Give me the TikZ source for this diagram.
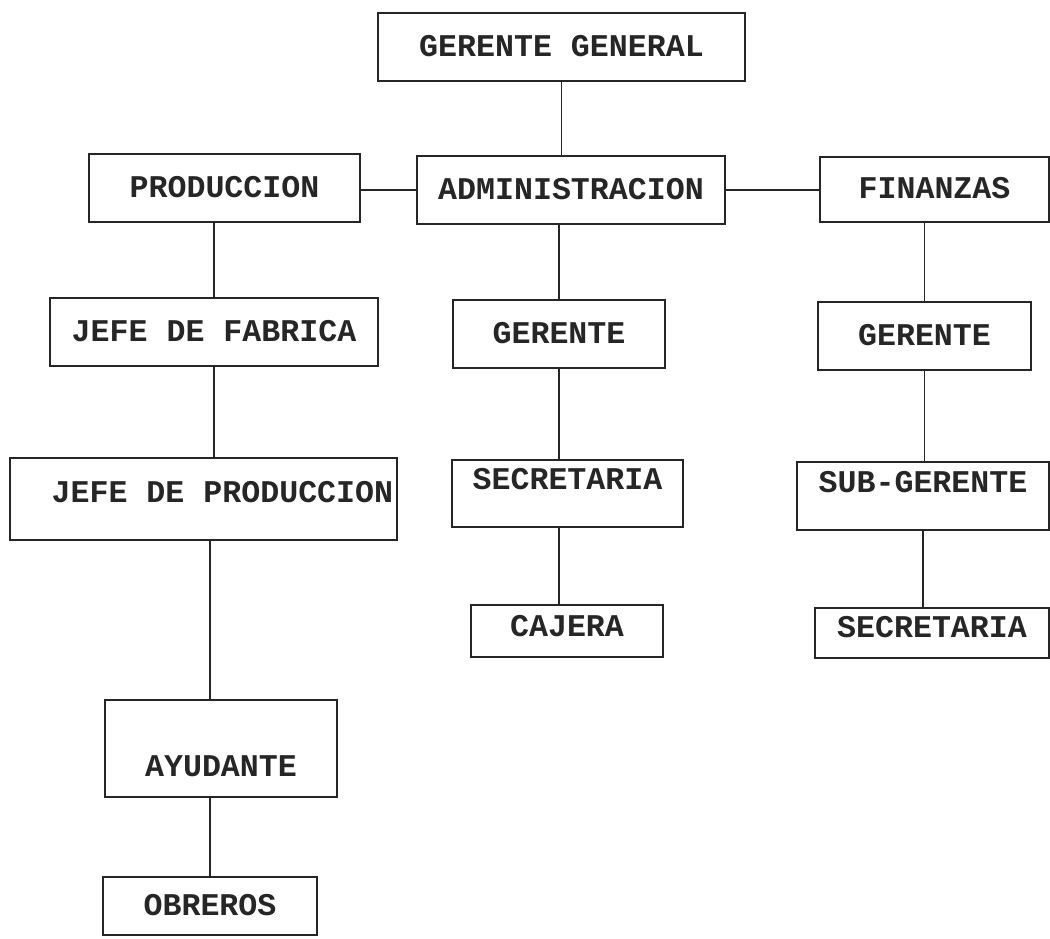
\documentclass[tikz,border=0pt]{standalone}
\usepackage{fontspec}
\setmonofont{Liberation Mono}
\usepackage{tikz}
\usetikzlibrary{positioning}

\begin{document}
\begin{tikzpicture}[x=0.02cm,y=-0.02cm,
  box/.style={draw=black!85,line width=1.6pt,inner xsep=2pt,inner ysep=2pt,
    font=\ttfamily\bfseries\fontsize{18}{20}\selectfont,text=black!85,
    text height=10.3pt,text depth=0pt,minimum height=1.36cm},
  lift/.style={text depth=#1},
  drop/.style={text height=#1},
  link/.style={draw=black!85,line width=1.1pt}]
\useasboundingbox (0,0) rectangle (1050,938);
% top row
\node[box,minimum width=7.34cm]                        (n_gg)   at (561.5,47)    {GERENTE GENERAL};
\node[box,minimum width=5.42cm]                        (n_prod) at (224.5,188)   {PRODUCCION};
\node[box,minimum width=6.16cm]                        (n_adm)  at (571,190)     {ADMINISTRACION};
\node[box,minimum width=4.58cm,minimum height=1.30cm]  (n_fin)  at (934.5,189.5) {FINANZAS};
% second row
\node[box,minimum width=6.56cm]                        (n_jdf)  at (214,332)     {JEFE DE FABRICA};
\node[box,minimum width=4.24cm]                        (n_ger1) at (559,334)     {GERENTE};
\node[box,minimum width=4.26cm]                        (n_ger2) at (924.5,336)   {GERENTE};
% third row
\node[box,minimum width=7.74cm,minimum height=1.64cm,lift=6.8pt] (n_jdp) at (203.5,499) {\hspace{21.5pt}JEFE DE PRODUCCION};
\node[box,minimum width=4.62cm,minimum height=1.34cm,lift=15.3pt] (n_sec1) at (567.5,493.5) {SECRETARIA};
\node[box,minimum width=5.04cm,lift=14.7pt]            (n_sub)  at (923,496)     {SUB-GERENTE};
% fourth row
\node[box,minimum width=3.84cm,minimum height=1.04cm,lift=4.5pt] (n_caj)  at (567,631) {CAJERA};
\node[box,minimum width=4.68cm,minimum height=1.00cm,lift=5.7pt] (n_sec2) at (932,633) {SECRETARIA};
% bottom
\node[box,minimum width=4.64cm,minimum height=1.94cm,drop=31.3pt] (n_ayu) at (221,748.5) {AYUDANTE};
\node[box,minimum width=4.28cm,minimum height=1.16cm]  (n_obr)  at (210,906)     {OBREROS};

\draw[link] (n_gg.south) -- (n_gg.south |- n_adm.north);
\draw[link] (n_adm.west -| n_prod.east) -- (n_adm.west);
\draw[link] (n_adm.east) -- (n_adm.east -| n_fin.west);
\draw[link] (n_jdf.north) -- (n_jdf.north |- n_prod.south);
\draw[link] (n_jdf.south) -- (n_jdf.south |- n_jdp.north);
\draw[link] ([xshift=-0.22cm]n_ayu.north) -- ([xshift=-0.22cm]n_ayu.north |- n_jdp.south);
\draw[link] (n_obr.north) -- (n_obr.north |- n_ayu.south);
\draw[link] (n_ger1.north) -- (n_ger1.north |- n_adm.south);
\draw[link] (n_ger1.south) -- (n_ger1.south |- n_sec1.north);
\draw[link] (n_ger1.south |- n_sec1.south) -- (n_ger1.south |- n_caj.north);
\draw[link] (n_ger2.north) -- (n_ger2.north |- n_fin.south);
\draw[link] (n_ger2.south) -- (n_ger2.south |- n_sub.north);
\draw[link] (n_sub.south) -- (n_sub.south |- n_sec2.north);
\end{tikzpicture}
\end{document}
